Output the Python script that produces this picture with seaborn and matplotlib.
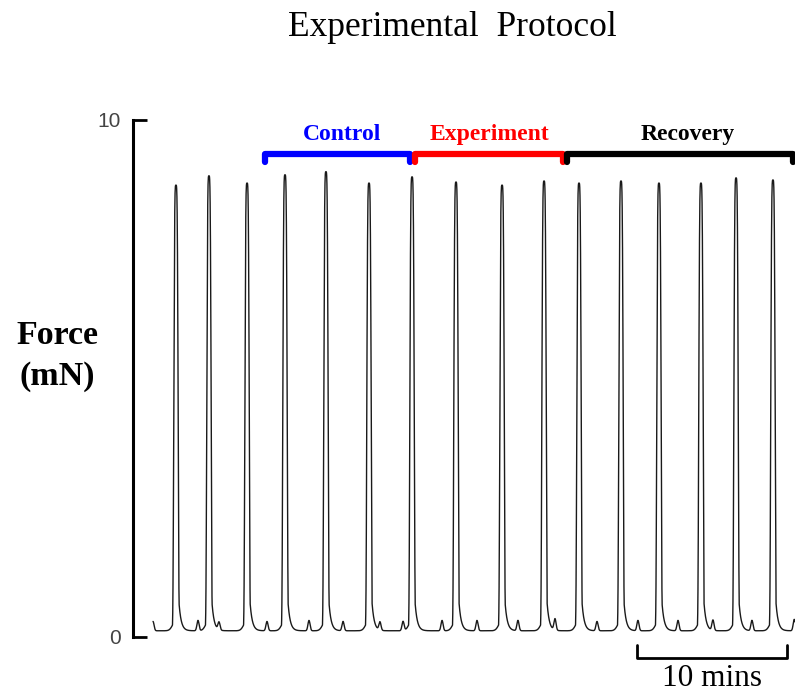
import numpy as np
import pandas as pd
import matplotlib
matplotlib.use("Agg")
import matplotlib.pyplot as plt
import seaborn as sns

# Contraction peaks (time in min, force in mN)
peak_times = [1.53, 3.73, 6.27, 8.80, 11.53, 14.40, 17.27, 20.20, 23.27,
              26.07, 28.40, 31.20, 33.73, 36.53, 38.87, 41.33]
peak_heights = [8.74, 8.92, 8.78, 8.94, 9.00, 8.78, 8.90, 8.80, 8.74,
                8.82, 8.78, 8.82, 8.78, 8.78, 8.88, 8.84]

# Small secondary deflections between contractions
bump_times = [0.0, 3.0, 4.4, 7.6, 10.4, 12.67, 15.13, 16.67, 19.27, 21.6,
              24.33, 26.8, 29.6, 32.33, 35.0, 37.33, 39.93, 42.75]
bump_heights = [0.18, 0.2, 0.15, 0.18, 0.2, 0.18, 0.16, 0.18, 0.2, 0.2,
                0.2, 0.22, 0.18, 0.2, 0.2, 0.2, 0.2, 0.22]

baseline = 0.12
record_end = 42.8

# Protocol phases
phase_labels = ["Control", "Experiment", "Recovery"]
phase_starts = [7.47, 17.47, 27.60]
phase_ends = [17.13, 27.33, 42.67]
phase_label_x = [12.6, 22.4, 35.67]
phase_colors = ["#0000ff", "#ff0000", "#000000"]

# Time scale bar
scale_start, scale_len = 32.27, 10.0

# ---- build the force trace from the beats ----
t = np.linspace(0, record_end, 8000)
force = np.full_like(t, baseline)
for t0, h in zip(peak_times, peak_heights):
    d = t - t0
    amp = h - baseline
    spike = amp * np.exp(-(d / 0.16) ** 4)
    tail = np.where(d > 0, 0.55 * np.minimum(1.0, np.exp(-(d - 0.2) / 0.15)), 0.0)
    pre = np.where(d < 0, 0.2 * np.exp(-(d / 0.3) ** 2), 0.0)
    force += np.maximum.reduce([spike, tail, pre])
for tb, hb in zip(bump_times, bump_heights):
    force += hb * np.exp(-((t - tb) / 0.1) ** 2)

trace = pd.DataFrame({"time": t, "force": force})

sns.set_theme(style="white")
plt.rcParams["font.family"] = ["Liberation Serif", "DejaVu Serif"]
plt.rcParams["text.color"] = "black"

fig = plt.figure(figsize=(7.95, 6.95), dpi=100)
ax = fig.add_axes([0.1673, 0.0835, 1.0 - 0.1673, 0.7439])

sns.lineplot(data=trace, x="time", y="force", ax=ax, color="#1a1a1a",
             linewidth=1.0, estimator=None)

ax.set_xlim(-1.333, record_end)
ax.set_ylim(0, 10)
ax.set_xlabel("")
ax.set_ylabel("")
ax.set_xticks([])
ax.set_yticks([0, 10])
ax.set_yticklabels(["0", "10"], family="Liberation Sans", fontsize=15,
                   color="#444444")
ax.tick_params(axis="y", direction="in", length=10, width=2, color="black",
               pad=9, left=True)
for side in ["top", "right", "bottom"]:
    ax.spines[side].set_visible(False)
ax.spines["left"].set_linewidth(2.2)
ax.spines["left"].set_color("black")

# Protocol brackets
bar_y, hook_y, label_y = 9.35, 9.19, 9.71
for lab, s, e, lx, c in zip(phase_labels, phase_starts, phase_ends,
                            phase_label_x, phase_colors):
    ax.plot([s, s, e, e], [hook_y, bar_y, bar_y, hook_y], color=c, lw=4.5,
            solid_capstyle="round", solid_joinstyle="round", clip_on=False)
    ax.text(lx, label_y, lab, color=c, fontsize=17, fontweight="bold",
            ha="center", va="center", clip_on=False)

# Scale bar
ax.plot([scale_start, scale_start, scale_start + scale_len, scale_start + scale_len],
        [-0.15, -0.41, -0.41, -0.15], color="black", lw=2, clip_on=False)
ax.text(scale_start + scale_len / 2, -0.95, "10 mins", fontsize=22.5,
        ha="center", va="baseline", clip_on=False)

fig.text(452 / 795, 1 - 28 / 695, "Experimental  Protocol", fontsize=25.5,
         ha="center", va="center")
fig.text(57 / 795, 1 - 356 / 695, "Force\n(mN)", fontsize=24.5, fontweight="bold",
         ha="center", va="center", linespacing=1.4)

fig.savefig("out.png", dpi=100)
